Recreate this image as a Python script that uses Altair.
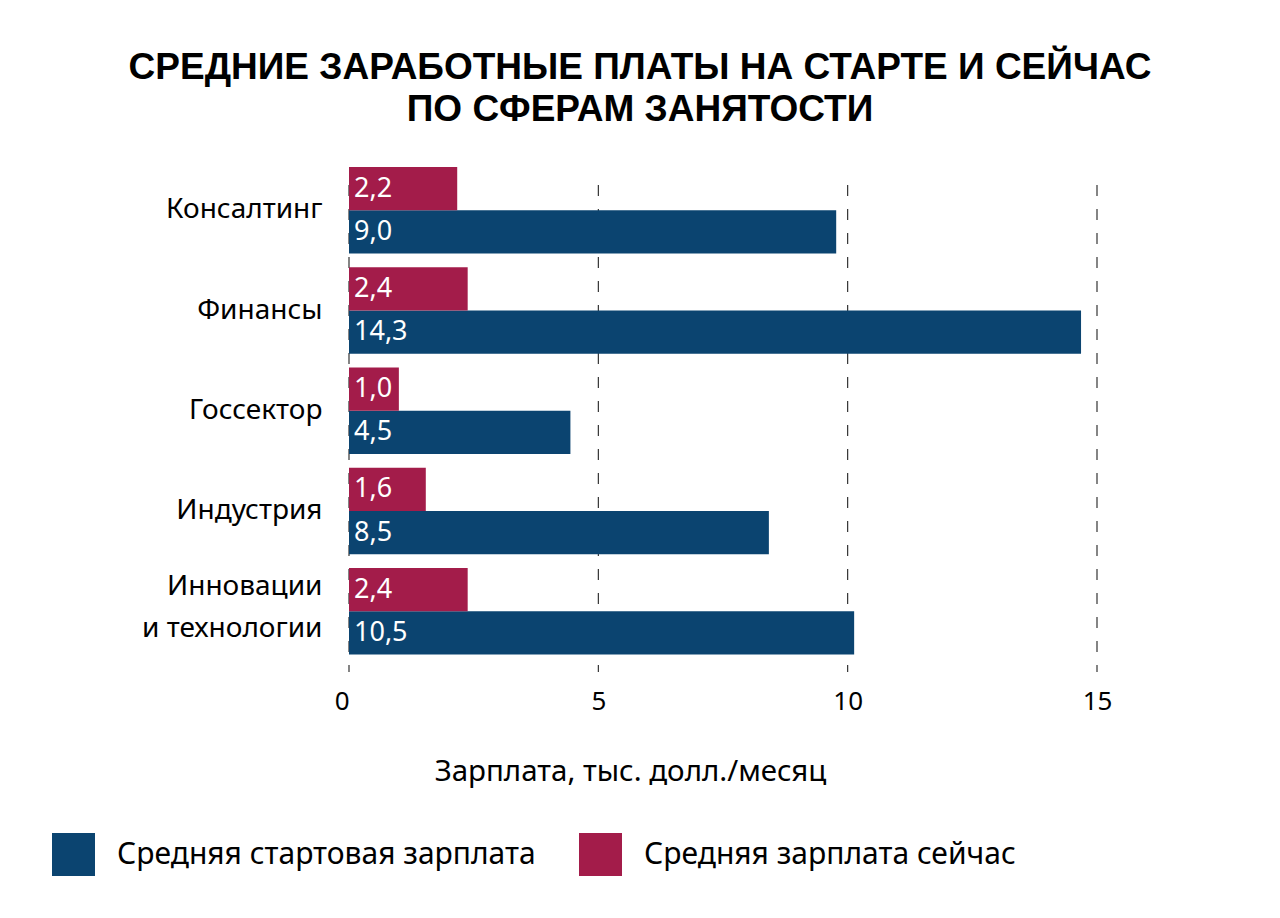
import altair as alt
import pandas as pd

categories = ["Консалтинг", "Финансы", "Госсектор", "Индустрия", "Инновации и технологии"]
series_names = ["Средняя стартовая зарплата", "Средняя зарплата сейчас"]
start_values = [9.77, 14.68, 4.44, 8.42, 10.13]
start_labels = ["9,0", "14,3", "4,5", "8,5", "10,5"]
now_values = [2.17, 2.38, 1.0, 1.54, 2.38]
now_labels = ["2,2", "2,4", "1,0", "1,6", "2,4"]
x_ticks = [0, 5, 10, 15]
colors = ["#0b4470", "#a31c4a"]
title_lines = ["СРЕДНИЕ ЗАРАБОТНЫЕ ПЛАТЫ НА СТАРТЕ И СЕЙЧАС", "ПО СФЕРАМ ЗАНЯТОСТИ"]
x_title = "Зарплата, тыс. долл./месяц"

rows = []
for c, v, l in zip(categories, start_values, start_labels):
    rows.append({"cat": c, "series": series_names[0], "value": v, "label": l})
for c, v, l in zip(categories, now_values, now_labels):
    rows.append({"cat": c, "series": series_names[1], "value": v, "label": l})
df = pd.DataFrame(rows)
grid_df = pd.DataFrame({"tick": x_ticks})

W, H = 748, 505
FONT = "Noto Sans"
TITLE_FONT = "Liberation Sans"
TWO_LINE = "Инновации и технологии"

x_scale = alt.Scale(domain=[0, 15], nice=False, zero=True)
x_axis = alt.Axis(
    values=x_ticks, grid=False, ticks=False, domain=False,
    labelFontSize=26, labelFont=FONT, labelColor="black", labelPadding=16,
    labelAlign={"condition": {"test": "datum.value == 0", "value": "right"}, "value": "center"},
    title=x_title, titleFont=FONT, titleFontSize=29.5, titleFontWeight="normal",
    titleColor="black", titleX=281, titleY=108, titleBaseline="alphabetic",
)
y_axis = alt.Axis(
    title=None, ticks=False, domain=False, grid=False,
    labelFontSize=28, labelFont=FONT, labelColor="black", labelPadding=27,
    labelLineHeight=42, labelLimit=400,
    labelOffset={"condition": {"test": f"datum.value == '{TWO_LINE}'", "value": -24}, "value": 0},
    labelExpr=f"datum.value == '{TWO_LINE}' ? ['Инновации', 'и технологии'] : datum.value",
)
y_scale = alt.Scale(paddingInner=0.136, paddingOuter=0.0867, align=0)
yoff_domain = [series_names[1], series_names[0]]

grid = alt.Chart(grid_df).mark_rule(strokeDash=[11, 13], color="#222222", strokeWidth=1.1).encode(
    x=alt.X("tick:Q", scale=x_scale, axis=x_axis),
    y=alt.value(18),
    y2=alt.value(H),
)

bars = alt.Chart(df).mark_bar().encode(
    x=alt.X("value:Q", scale=x_scale, axis=x_axis),
    y=alt.Y("cat:N", sort=categories, scale=y_scale, axis=y_axis),
    yOffset=alt.YOffset("series:N", sort=yoff_domain,
                        scale=alt.Scale(domain=yoff_domain, paddingInner=0, paddingOuter=0)),
    color=alt.Color(
        "series:N",
        scale=alt.Scale(domain=series_names, range=colors),
        legend=alt.Legend(
            title=None, orient="none", direction="horizontal",
            legendX=-297, legendY=666, padding=0,
            symbolType="square", symbolSize=1849, symbolStrokeWidth=0,
            symbolOpacity=1,
            labelFont=FONT, labelFontSize=30, labelColor="black",
            labelOffset=22, columnPadding=43, labelLimit=600,
        ),
    ),
)

labels = alt.Chart(df).transform_calculate(x0="0").mark_text(
    align="left", baseline="middle", dx=5, color="white", fontSize=27, font=FONT
).encode(
    x=alt.X("x0:Q", scale=x_scale, axis=x_axis),
    y=alt.Y("cat:N", sort=categories, scale=y_scale, axis=y_axis),
    yOffset=alt.YOffset("series:N", sort=yoff_domain,
                        scale=alt.Scale(domain=yoff_domain, paddingInner=0, paddingOuter=0)),
    text="label:N",
)

chart = alt.layer(grid, bars, labels).properties(
    width=W, height=H,
    title=alt.TitleParams(
        title_lines, font=TITLE_FONT, fontSize=37, fontWeight="bold", color="black",
        lineHeight=42, anchor="middle", dx=-83, offset=38,
    ),
    autosize=alt.AutoSizeParams(type="none"),
    padding={"left": 341, "top": 159, "right": 175, "bottom": 238},
).configure(background="white").configure_view(stroke=None)

chart.save("out.html", embed_options={"renderer": "svg", "actions": False})
